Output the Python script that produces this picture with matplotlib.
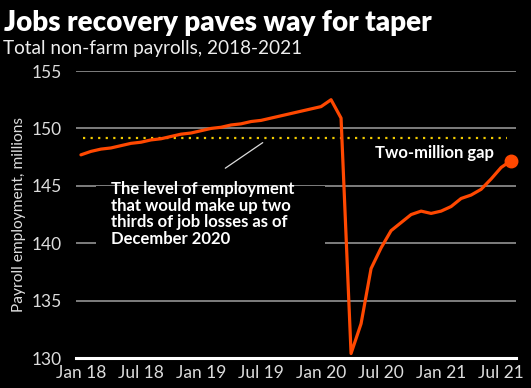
import matplotlib
matplotlib.use("Agg")
import matplotlib.pyplot as plt
from matplotlib.patches import Rectangle

# Total non-farm payrolls, millions, Jan 2018 - Aug 2021
payrolls = [
    147.7, 148.0, 148.2, 148.3, 148.5, 148.7, 148.8, 149.0, 149.1, 149.3, 149.5, 149.6,  # 2018
    149.8, 150.0, 150.1, 150.3, 150.4, 150.6, 150.7, 150.9, 151.1, 151.3, 151.5, 151.7,  # 2019
    151.9, 152.5, 150.9, 130.4, 133.0, 137.8, 139.6, 141.1, 141.8, 142.5, 142.8, 142.6,  # 2020
    142.8, 143.2, 143.9, 144.2, 144.7, 145.6, 146.6, 147.2,                              # 2021
]
months = list(range(len(payrolls)))
tick_pos = [0, 6, 12, 18, 24, 30, 36, 42]
tick_labels = ["Jan 18", "Jul 18", "Jan 19", "Jul 19", "Jan 20", "Jul 20", "Jan 21", "Jul 21"]
yticks = [130, 135, 140, 145, 150, 155]
target_level = 149.2

plt.rcParams['font.family'] = ['Lato', 'DejaVu Sans']

fig = plt.figure(figsize=(5.31, 3.88), dpi=100, facecolor="black")
ax = fig.add_axes([0.143, 0.077, 0.829, 0.740], facecolor="black")

ax.set_xlim(-0.5, 43.5)
ax.set_ylim(130, 155)

for y in yticks[1:]:
    ax.axhline(y, color="#a0a0a0", lw=1.1, zorder=1)

# black panel behind the annotation text, hides gridlines
ax.add_patch(Rectangle((0.045, 0.335), 0.52, 0.265, transform=ax.transAxes,
                       facecolor="black", edgecolor="none", zorder=2))

ax.hlines(target_level, 0.2, 42.6, colors="#f2cc00", lw=1.6,
          linestyles=(0, (1, 2.4)), zorder=3)

ax.plot(months, payrolls, color="#ff4800", lw=2.3, zorder=5, clip_on=False,
        solid_joinstyle="round", solid_capstyle="round")
ax.plot(months[-1], payrolls[-1], "o", color="#ff4800", ms=9, zorder=6, clip_on=False)

ax.annotate("", xy=(18.4, 148.9), xytext=(14.2, 146.4),
            arrowprops=dict(arrowstyle="-", color="#dddddd", lw=0.9), zorder=4)

ax.text(3.0, 145.4, "The level of employment\nthat would make up two\nthirds of job losses as of\nDecember 2020",
        color="white", fontsize=12, fontweight="bold", va="top", ha="left",
        linespacing=1.04, zorder=4)
ax.text(29.4, 147.9, "Two-million gap", color="white", fontsize=12,
        fontweight="bold", va="center", ha="left", zorder=4)

for side in ["top", "right", "left"]:
    ax.spines[side].set_visible(False)
ax.spines["bottom"].set_color("white")
ax.spines["bottom"].set_linewidth(2.2)
ax.spines["bottom"].set_zorder(4)

ax.set_yticks(yticks)
ax.set_xticks(tick_pos)
ax.set_xticklabels(tick_labels)
ax.tick_params(axis="both", length=0, colors="#dddddd", labelsize=12.5)
ax.tick_params(axis="y", pad=10)
ax.tick_params(axis="x", pad=5)
ax.set_ylabel("Payroll employment, millions", color="#dddddd", fontsize=11.2, labelpad=4)

fig.text(0.008, 0.975, "Jobs recovery paves way for taper", color="white",
         fontsize=20, fontweight="heavy", va="top", ha="left")
fig.text(0.006, 0.897, "Total non-farm payrolls, 2018-2021", color="#eeeeee",
         fontsize=13.7, va="top", ha="left")

fig.savefig("out.png", dpi=100, facecolor="black")
